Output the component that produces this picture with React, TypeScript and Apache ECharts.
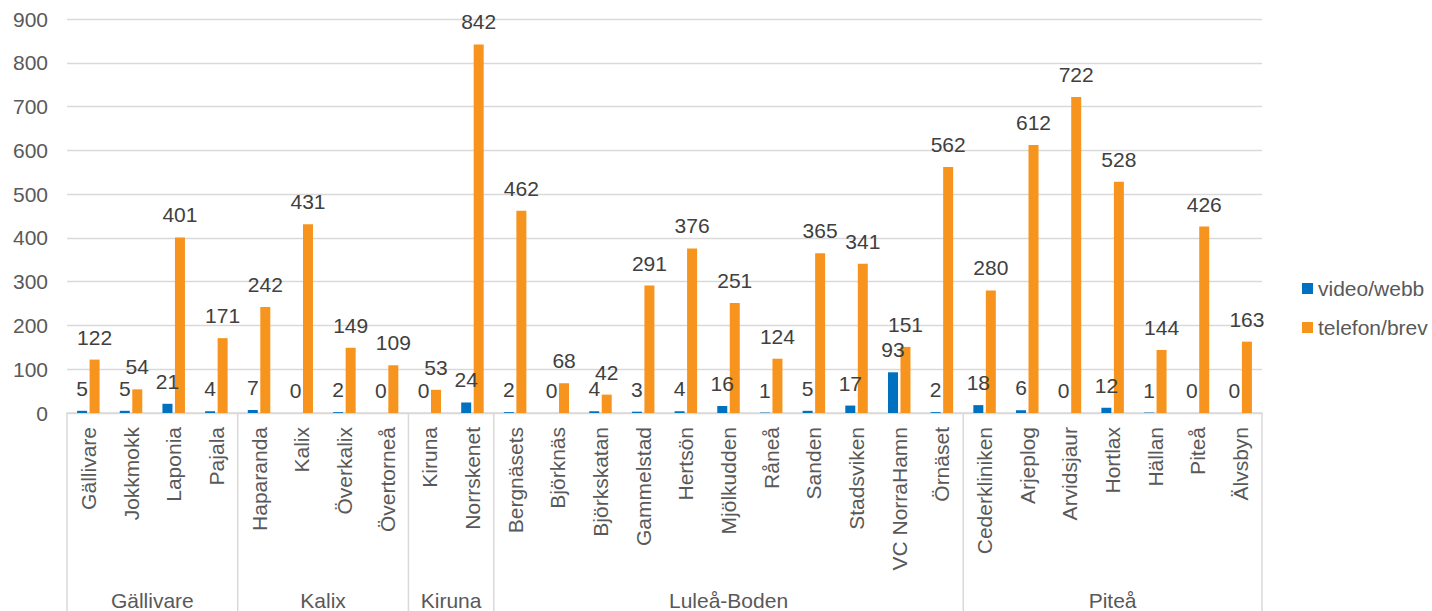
import React, { useEffect, useRef } from "react";
import * as echarts from "echarts";

const groups = ["Gällivare", "Kalix", "Kiruna", "Luleå-Boden", "Piteå"];
const groupSizes = [4, 4, 2, 11, 7];
const categories = [
  "Gällivare", "Jokkmokk", "Laponia", "Pajala",
  "Haparanda", "Kalix", "Överkalix", "Övertorneå",
  "Kiruna", "Norrskenet",
  "Bergnäsets", "Björknäs", "Björkskatan", "Gammelstad", "Hertsön", "Mjölkudden", "Råneå", "Sanden", "Stadsviken", "VC NorraHamn", "Örnäset",
  "Cederkliniken", "Arjeplog", "Arvidsjaur", "Hortlax", "Hällan", "Piteå", "Älvsbyn",
];
const videoWebb = [5, 5, 21, 4, 7, 0, 2, 0, 0, 24, 2, 0, 4, 3, 4, 16, 1, 5, 17, 93, 2, 18, 6, 0, 12, 1, 0, 0];
const telefonBrev = [122, 54, 401, 171, 242, 431, 149, 109, 53, 842, 462, 68, 42, 291, 376, 251, 124, 365, 341, 151, 562, 280, 612, 722, 528, 144, 426, 163];
const yTicks = [0, 100, 200, 300, 400, 500, 600, 700, 800, 900];

const FONT = "'Liberation Sans', Arial, sans-serif";
const AXIS_COLOR = "#595959";
const LINE_COLOR = "#d9d9d9";

export default function App() {
  const ref = useRef<HTMLDivElement>(null);
  useEffect(() => {
    if (!ref.current) return;
    const chart = echarts.init(ref.current, null, { renderer: "svg" });
    const labelCommon = {
      show: true,
      position: "top" as const,
      distance: 12,
      color: "#404040",
      fontSize: 21,
      fontFamily: FONT,
    };
    chart.setOption({
      animation: false,
      textStyle: { fontFamily: FONT },
      grid: { left: 67, right: 170, top: 19, bottom: 198, containLabel: false },
      legend: {
        orient: "vertical",
        left: 1302,
        top: 278,
        padding: 0,
        itemWidth: 11,
        itemHeight: 11,
        itemGap: 18,
        icon: "rect",
        textStyle: { fontSize: 21, color: AXIS_COLOR, fontFamily: FONT },
        data: ["video/webb", "telefon/brev"],
      },
      xAxis: {
        type: "category",
        data: categories,
        axisLine: { lineStyle: { color: LINE_COLOR, width: 1.5 } },
        axisTick: { show: false },
        axisLabel: {
          rotate: 90,
          margin: 14,
          interval: 0,
          fontSize: 21,
          color: AXIS_COLOR,
          fontFamily: FONT,
        },
      },
      yAxis: {
        type: "value",
        min: yTicks[0],
        max: yTicks[yTicks.length - 1],
        interval: 100,
        axisLine: { show: false },
        axisTick: { show: false },
        splitLine: { lineStyle: { color: LINE_COLOR, width: 1.3 } },
        axisLabel: { margin: 19, fontSize: 21, color: AXIS_COLOR, fontFamily: FONT },
      },
      series: [
        {
          name: "video/webb",
          type: "bar",
          data: videoWebb,
          barWidth: 10,
          barGap: "25%",
          itemStyle: { color: "#0070C0" },
          label: labelCommon,
        },
        {
          name: "telefon/brev",
          type: "bar",
          data: telefonBrev,
          barWidth: 10,
          barGap: "25%",
          itemStyle: { color: "#F7941D" },
          label: labelCommon,
        },
      ],
    });

    // Multi-level axis: group separators and group labels
    const c0 = chart.convertToPixel({ xAxisIndex: 0 }, 0) as number;
    const c1 = chart.convertToPixel({ xAxisIndex: 0 }, 1) as number;
    const bw = c1 - c0;
    const axisY = chart.convertToPixel({ yAxisIndex: 0 }, 0) as number;
    const elements: any[] = [];
    let start = 0;
    const boundaryX = (idx: number) => c0 - bw / 2 + idx * bw;
    elements.push({
      type: "line",
      shape: { x1: boundaryX(0), y1: axisY, x2: boundaryX(0), y2: 611 },
      style: { stroke: LINE_COLOR, lineWidth: 1.5 },
      silent: true,
    });
    groups.forEach((g, gi) => {
      const end = start + groupSizes[gi];
      const xEnd = boundaryX(end);
      const xMid = (boundaryX(start) + xEnd) / 2;
      elements.push({
        type: "line",
        shape: { x1: xEnd, y1: axisY, x2: xEnd, y2: 611 },
        style: { stroke: LINE_COLOR, lineWidth: 1.5 },
        silent: true,
      });
      elements.push({
        type: "text",
        x: xMid,
        y: 600,
        style: {
          text: g,
          fontSize: 21,
          fontFamily: FONT,
          fill: AXIS_COLOR,
          align: "center",
          verticalAlign: "middle",
        },
        silent: true,
      });
      start = end;
    });
    chart.setOption({ graphic: elements });

    return () => chart.dispose();
  }, []);
  return <div ref={ref} style={{ width: 1432, height: 611, position: "absolute", left: 0, top: 0 }} />;
}
